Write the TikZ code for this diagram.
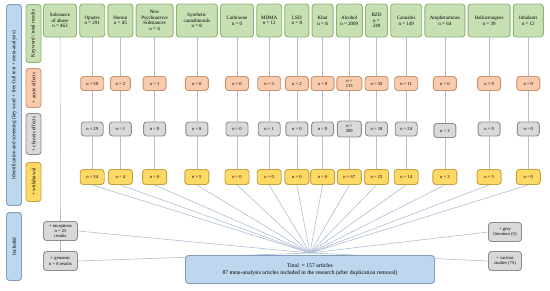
\documentclass[tikz,border=0pt]{standalone}
\usepackage{fontspec}
\setmainfont{Liberation Serif}
\usetikzlibrary{positioning,backgrounds}
\definecolor{kwfill}{HTML}{C6E0B4}
\definecolor{kwline}{HTML}{8DB472}
\definecolor{acfill}{HTML}{F8CBAD}
\definecolor{acline}{HTML}{C8926E}
\definecolor{chfill}{HTML}{D9D9D9}
\definecolor{chline}{HTML}{8C8C8C}
\definecolor{wdfill}{HTML}{FFD966}
\definecolor{wdline}{HTML}{C4A23C}
\definecolor{blfill}{HTML}{BDD7EE}
\definecolor{blline}{HTML}{7F9DBF}
\definecolor{linkcol}{HTML}{B0BDD2}

\begin{document}
\begin{tikzpicture}[x=1pt, y=1pt, node distance=2.3pt, every node/.style={font=\fontsize{4.6}{5.1}\selectfont, align=center, inner sep=1pt}, box/.style={draw, rounded corners=3pt, line width=0.9pt}, topbox/.style={box, fill=kwfill, draw=kwline, minimum height=33pt, font=\fontsize{5}{5.6}\selectfont}, acute/.style={box, fill=acfill, draw=acline, minimum width=23pt, minimum height=14pt}, chronic/.style={box, fill=chfill, draw=chline, minimum width=22pt, minimum height=14pt}, withdr/.style={box, fill=wdfill, draw=wdline, minimum width=24pt, minimum height=15pt}, extra/.style={box, fill=chfill, draw=chline, minimum width=34pt, minimum height=19pt}, sidebox/.style={box, rotate=90, minimum height=15pt, font=\fontsize{5.2}{6}\selectfont}, link/.style={draw=linkcol, line width=0.6pt}]
\useasboundingbox (0,0) rectangle (550,-290);
% left column
\node[sidebox, fill=blfill, draw=blline, minimum width=201pt] (ident) at (14,-105) {Identification and screening (key word + free-full text + meta-analysis)};
\node[sidebox, fill=blfill, draw=blline, minimum width=68pt] (incl) at (14,-246.5) {Included};
\node[sidebox, fill=kwfill, draw=kwline, minimum width=58pt] (kwlabel) at (33.5,-33.5) {Keyword / total results};
\node[sidebox, fill=acfill, draw=acline, minimum width=39pt] (aclabel) at (33.5,-88) {+ acute effects};
\node[sidebox, fill=chfill, draw=chline, minimum width=41pt] (chlabel) at (33.5,-134) {+ chronic effects};
\node[sidebox, fill=wdfill, draw=wdline, minimum width=39pt] (wdlabel) at (33.5,-182) {+ withdrawal};
% rows
\coordinate (arow) at (0,-83.5);
\coordinate (crow) at (0,-129);
\coordinate (wrow) at (0,-177);
\coordinate (hub) at (310,-253);
% keyword boxes
\node[topbox, minimum width=33pt] (abuse) at (60,-20.5) {Substance\\of abuse\\n = 463};
\node[topbox, minimum width=25pt, right=of abuse] (opiates) {Opiates\\n = 291};
\node[topbox, minimum width=25pt, right=of opiates] (heroin) {Heroin\\n = 45};
\node[topbox, minimum width=37pt, right=of heroin] (nps) {New\\Psychoactive\\Substances\\n = 4};
\node[topbox, minimum width=41pt, right=of nps] (synth) {Synthetic\\cannabinoids\\n = 8};
\node[topbox, minimum width=33pt, right=of synth] (cathinone) {Cathinone\\n = 0};
\node[topbox, minimum width=25pt, right=of cathinone] (mdma) {MDMA\\n = 12};
\node[topbox, minimum width=24pt, right=of mdma] (lsd) {LSD\\n = 8};
\node[topbox, minimum width=21pt, right=of lsd] (khat) {Khat\\n = 8};
\node[topbox, minimum width=26pt, right=of khat] (alcohol) {Alcohol\\n = 2009};
\node[topbox, minimum width=22pt, right=of alcohol] (bzd) {BZD\\n =\\249};
\node[topbox, minimum width=31pt, right=of bzd] (cannabis) {Cannabis\\n = 149};
\node[topbox, minimum width=40pt, right=of cannabis] (amph) {Amphetamines\\n = 64};
\node[topbox, minimum width=42pt, right=of amph] (halluc) {Hallucinogens\\n = 39};
\node[topbox, minimum width=30pt, right=of halluc] (inhal) {Inhalants\\n = 12};
% acute effects
\node[acute] (opiates-a) at (opiates |- arow) {n = 50};
\node[acute, minimum width=20pt] (heroin-a) at (heroin |- arow) {n = 2};
\node[acute] (nps-a) at (nps |- arow) {n = 1};
\node[acute] (synth-a) at (synth |- arow) {n = 0};
\node[acute] (cathinone-a) at (cathinone |- arow) {n = 0};
\node[acute] (mdma-a) at (mdma |- arow) {n = 3};
\node[acute] (lsd-a) at (lsd |- arow) {n = 2};
\node[acute] (khat-a) at (khat |- arow) {n = 0};
\node[acute, minimum width=25pt] (alcohol-a) at (alcohol |- arow) {n =\\113};
\node[acute] (bzd-a) at (bzd |- arow) {n = 35};
\node[acute] (cannabis-a) at (cannabis |- arow) {n = 11};
\node[acute] (amph-a) at (amph |- arow) {n = 6};
\node[acute] (halluc-a) at (halluc |- arow) {n = 9};
\node[acute] (inhal-a) at (inhal |- arow) {n = 0};
% chronic effects
\node[chronic] (opiates-c) at (opiates |- crow) {n = 29};
\node[chronic] (heroin-c) at (heroin |- crow) {n = 1};
\node[chronic] (nps-c) at (nps |- crow) {n = 0};
\node[chronic] (synth-c) at (synth |- crow) {n = 8};
\node[chronic] (cathinone-c) at (cathinone |- crow) {n = 0};
\node[chronic] (mdma-c) at (mdma |- crow) {n = 1};
\node[chronic] (lsd-c) at (lsd |- crow) {n = 0};
\node[chronic] (khat-c) at (khat |- crow) {n = 0};
\node[chronic, minimum width=24pt, minimum height=16pt] (alcohol-c) at (alcohol |- crow) {n =\\209};
\node[chronic] (bzd-c) at (bzd |- crow) {n = 18};
\node[chronic] (cannabis-c) at (cannabis |- crow) {n = 24};
\node[chronic, yshift=-1.5pt] (amph-c) at (amph |- crow) {n = 3};
\node[chronic] (halluc-c) at (halluc |- crow) {n = 9};
\node[chronic] (inhal-c) at (inhal |- crow) {n = 0};
% withdrawal
\node[withdr] (opiates-w) at (opiates |- wrow) {n = 34};
\node[withdr] (heroin-w) at (heroin |- wrow) {n = 4};
\node[withdr] (nps-w) at (nps |- wrow) {n = 0};
\node[withdr] (synth-w) at (synth |- wrow) {n = 5};
\node[withdr] (cathinone-w) at (cathinone |- wrow) {n = 0};
\node[withdr] (mdma-w) at (mdma |- wrow) {n = 0};
\node[withdr] (lsd-w) at (lsd |- wrow) {n = 0};
\node[withdr] (khat-w) at (khat |- wrow) {n = 0};
\node[withdr] (alcohol-w) at (alcohol |- wrow) {n = 67};
\node[withdr] (bzd-w) at (bzd |- wrow) {n = 23};
\node[withdr] (cannabis-w) at (cannabis |- wrow) {n = 14};
\node[withdr] (amph-w) at (amph |- wrow) {n = 3};
\node[withdr] (halluc-w) at (halluc |- wrow) {n = 5};
\node[withdr] (inhal-w) at (inhal |- wrow) {n = 0};
% included
\node[extra] (incept) at (60.5,-231) {+ inceptions\\n = 25\\results};
\node[extra] (genomic) at (60.5,-261) {+ genomic\\n = 8 results};
\node[extra, minimum width=33pt] (greylit) at (505,-232) {+ grey\\literature (5)};
\node[extra, minimum width=33pt] (various) at (505,-261) {+ various\\studies (75)};
\node[box, fill=blfill, draw=blline, minimum width=249pt, minimum height=28pt, font=\fontsize{5.7}{6.6}\selectfont] (total) at (310,-269.5) {Total \ = 157 articles\\87 meta-analysis articles included in the research (after duplication removal)};
% connectors
\draw[link] (abuse) -- (incept);
\draw[link] (incept) -- (genomic);
\draw[link] (opiates) -- (opiates-a) -- (opiates-c) -- (opiates-w);
\draw[link] (heroin) -- (heroin-a) -- (heroin-c) -- (heroin-w);
\draw[link] (nps) -- (nps-a) -- (nps-c) -- (nps-w);
\draw[link] (synth) -- (synth-a) -- (synth-c) -- (synth-w);
\draw[link] (cathinone) -- (cathinone-a) -- (cathinone-c) -- (cathinone-w);
\draw[link] (mdma) -- (mdma-a) -- (mdma-c) -- (mdma-w);
\draw[link] (lsd) -- (lsd-a) -- (lsd-c) -- (lsd-w);
\draw[link] (khat) -- (khat-a) -- (khat-c) -- (khat-w);
\draw[link] (alcohol) -- (alcohol-a) -- (alcohol-c) -- (alcohol-w);
\draw[link] (bzd) -- (bzd-a) -- (bzd-c) -- (bzd-w);
\draw[link] (cannabis) -- (cannabis-a) -- (cannabis-c) -- (cannabis-w);
\draw[link] (amph) -- (amph-a) -- (amph-c) -- (amph-w);
\draw[link] (halluc) -- (halluc-a) -- (halluc-c) -- (halluc-w);
\draw[link] (inhal) -- (inhal-a) -- (inhal-c) -- (inhal-w);
\begin{scope}[on background layer]
\draw[link] (incept.east) -- (hub);
\draw[link] (genomic.east) -- (hub);
\draw[link] (greylit.west) -- (hub);
\draw[link] (various.west) -- (hub);
\draw[link] (opiates-w.south) -- (hub);
\draw[link] (heroin-w.south) -- (hub);
\draw[link] (nps-w.south) -- (hub);
\draw[link] (synth-w.south) -- (hub);
\draw[link] (cathinone-w.south) -- (hub);
\draw[link] (mdma-w.south) -- (hub);
\draw[link] (lsd-w.south) -- (hub);
\draw[link] (khat-w.south) -- (hub);
\draw[link] (alcohol-w.south) -- (hub);
\draw[link] (bzd-w.south) -- (hub);
\draw[link] (cannabis-w.south) -- (hub);
\draw[link] (amph-w.south) -- (hub);
\draw[link] (halluc-w.south) -- (hub);
\draw[link] (inhal-w.south) -- (hub);
\end{scope}
\end{tikzpicture}
\end{document}
